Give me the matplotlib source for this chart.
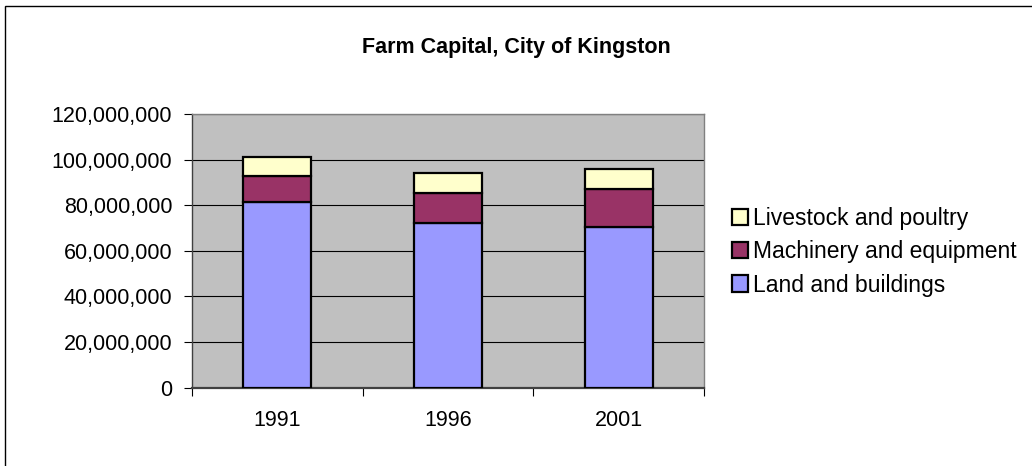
import matplotlib
matplotlib.use('Agg')
import matplotlib.pyplot as plt
import matplotlib.ticker as mtick
import numpy as np

plt.rcParams['font.family'] = ['Liberation Sans', 'DejaVu Sans']

#Data
years = ['1991', '1996', '2001']
land = [81400000, 72300000, 70400000]
machinery = [11300000, 13200000, 16600000]
livestock = [8700000, 8700000, 8900000]
series_names = ['Land and buildings', 'Machinery and equipment', 'Livestock and poultry']
series_colors = ['#9999FF', '#993366', '#FFFFCC']
yticks = [0, 20000000, 40000000, 60000000, 80000000, 100000000, 120000000]


def main():
    fig = plt.figure(figsize=(10.32, 4.66), dpi=100)
    fig.patch.set_facecolor('white')
    ax = fig.add_axes([191.7/1032, 1-387.5/466, 512.6/1032, 273.2/466])
    ax.set_facecolor('#C0C0C0')

    x = np.arange(len(years))
    bottom = np.zeros(len(years))
    bars = []
    for vals, col, name in zip([land, machinery, livestock], series_colors, series_names):
        b = ax.bar(x, vals, width=0.4, bottom=bottom, color=col, edgecolor='black',
                   linewidth=1.6, label=name, zorder=3)
        bars.append(b)
        bottom = bottom + np.array(vals)

    #axes and grid
    ax.set_xlim(-0.5, 2.5)
    ax.set_ylim(0, 120000000)
    ax.set_yticks(yticks)
    ax.yaxis.set_major_formatter(mtick.StrMethodFormatter('{x:,.0f}'))
    ax.yaxis.grid(True, color='black', linewidth=0.8, zorder=1)
    ax.set_axisbelow(True)
    ax.tick_params(axis='y', length=6, width=0.8, pad=8, labelsize=15.5, direction='out')

    #category boundaries as ticks, labels centred on bars
    ax.set_xticks([-0.5, 0.5, 1.5, 2.5])
    ax.set_xticklabels([])
    ax.set_xticks(x, minor=True)
    ax.set_xticklabels(years, minor=True)
    ax.tick_params(axis='x', which='major', length=6, width=0.8, direction='out')
    ax.tick_params(axis='x', which='minor', length=0, pad=16, labelsize=15.5)

    for s in ['top', 'right']:
        ax.spines[s].set_color('#808080')
        ax.spines[s].set_linewidth(1.0)
    ax.spines['left'].set_color('#404040')
    ax.spines['bottom'].set_color('#404040')
    ax.spines['left'].set_linewidth(1.0)
    ax.spines['bottom'].set_linewidth(1.6)

    fig.text(0.5, 1-47/466, 'Farm Capital, City of Kingston', ha='center', va='center',
             fontsize=15.5, fontweight='bold')

    #legend, top entry first
    handles = bars[::-1]
    labels = series_names[::-1]
    ax.legend(handles, labels, loc='center left', bbox_to_anchor=(732/1032, 1-251.7/466),
              bbox_transform=fig.transFigure, frameon=False, fontsize=16.5,
              handlelength=0.7, handleheight=0.7, handletextpad=0.2,
              labelspacing=0.45, borderpad=0, borderaxespad=0)

    #outer chart border
    fig.add_artist(plt.Rectangle((5/1032, -0.1), 1.2, 1-6/466+0.1, transform=fig.transFigure,
                                 fill=False, edgecolor='black', linewidth=1.0))

    fig.savefig('out.png', dpi=100)


if __name__ == '__main__':
    main()
